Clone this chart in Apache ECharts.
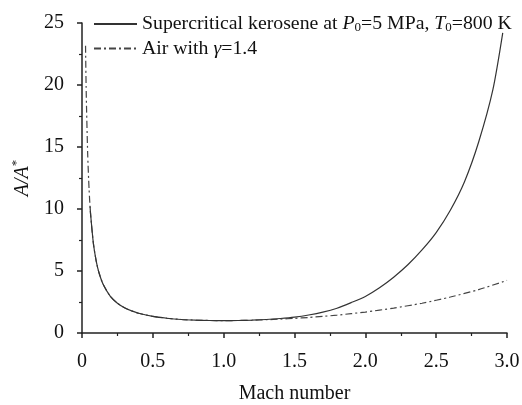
<!DOCTYPE html>
<html>
<head>
<meta charset="utf-8">
<script src="https://cdn.jsdelivr.net/npm/echarts@6/dist/echarts.min.js"></script>
<style>html,body{margin:0;padding:0;background:#fff}#c{width:522px;height:405px}</style>
</head>
<body>
<div id="c"></div>
<script>
var machAir = [0.025,0.03,0.04,0.05,0.06,0.08,0.1,0.12,0.15,0.2,0.25,0.3,0.35,0.4,0.5,0.6,0.7,0.8,0.9,1.0,1.1,1.2,1.3,1.4,1.5,1.6,1.7,1.8,1.9,2.0,2.2,2.4,2.6,2.8,3.0];
var areaAir = [23.16,19.30,14.48,11.59,9.67,7.26,5.82,4.86,3.91,2.96,2.40,2.04,1.78,1.59,1.34,1.19,1.09,1.04,1.01,1.00,1.01,1.03,1.07,1.12,1.18,1.25,1.34,1.44,1.56,1.69,2.01,2.40,2.90,3.50,4.24];
var machKero = [0.057,0.06,0.08,0.1,0.12,0.15,0.2,0.25,0.3,0.35,0.4,0.5,0.6,0.7,0.8,0.9,1.0,1.1,1.2,1.3,1.4,1.5,1.6,1.7,1.8,1.9,2.0,2.1,2.2,2.3,2.4,2.5,2.6,2.7,2.8,2.9,2.97];
var areaKero = [10.2,9.67,7.26,5.82,4.86,3.91,2.96,2.40,2.04,1.78,1.59,1.34,1.19,1.09,1.04,1.01,1.00,1.01,1.04,1.09,1.17,1.28,1.45,1.68,2.0,2.45,2.95,3.65,4.5,5.5,6.7,8.1,9.9,12.2,15.4,19.6,24.2];
var xTicks = ['0','0.5','1.0','1.5','2.0','2.5','3.0'];
var seriesNames = ['Supercritical kerosene', 'Air'];

function zip(a,b){var r=[];for(var i=0;i<a.length;i++)r.push([a[i],b[i]]);return r;}
var F = 'Liberation Serif';
var chart = echarts.init(document.getElementById('c'));
chart.setOption({
  animation:false,
  backgroundColor:'#fff',
  grid:{left:82,right:15,top:23,bottom:72,containLabel:false,outerBoundsMode:'none'},
  legend:{
    orient:'vertical', left:93, top:14, padding:0, itemWidth:43, itemHeight:10, itemGap:4,
    data:seriesNames,
    itemStyle:{opacity:0},
    formatter:function(n){
      if(n===seriesNames[0]) return '{n|Supercritical kerosene at }{i|P}{s|0}{n|=5 MPa, }{i|T}{s|0}{n|=800 K}';
      return '{n|Air with }{i|γ}{n|=1.4}';
    },
    textStyle:{
      color:'#111', fontFamily:F, fontSize:19.8,
      rich:{
        n:{fontFamily:F,fontSize:19.8,color:'#111'},
        i:{fontFamily:F,fontSize:19.8,fontStyle:'italic',color:'#111'},
        s:{fontFamily:F,fontSize:13,color:'#111',padding:[8,0,0,0]}
      }
    }
  },
  xAxis:{
    type:'value', min:0, max:3, interval:0.5,
    name:'Mach number', nameLocation:'middle', nameGap:51,
    nameTextStyle:{fontFamily:F,fontSize:20,color:'#111'},
    axisLine:{lineStyle:{color:'#222',width:1.5}},
    axisTick:{show:true,length:5,inside:false,lineStyle:{color:'#222',width:1.5}},
    minorTick:{show:true,splitNumber:2,length:3,lineStyle:{color:'#222',width:1.2}},
    splitLine:{show:false},
    axisLabel:{fontFamily:F,fontSize:20,color:'#111',margin:19,
      formatter:function(v){return xTicks[Math.round(v/0.5)];}}
  },
  yAxis:{
    type:'value', min:0, max:25, interval:5,
    name:'{i|A}{n|/}{i|A}{sup|*}', nameLocation:'middle', nameGap:47, nameRotate:90,
    nameMoveOverlap:false,
    nameTextStyle:{fontFamily:F,fontSize:20,color:'#111',
      rich:{i:{fontFamily:F,fontSize:20,fontStyle:'italic',color:'#111'},
            n:{fontFamily:F,fontSize:20,fontStyle:'italic',color:'#111'},
            sup:{fontFamily:F,fontSize:13,color:'#111',padding:[0,0,12,0]}}},
    axisLine:{show:true,lineStyle:{color:'#222',width:1.5}},
    axisTick:{show:true,length:5,inside:false,lineStyle:{color:'#222',width:1.5}},
    minorTick:{show:true,splitNumber:2,length:3,lineStyle:{color:'#222',width:1.2}},
    splitLine:{show:false},
    axisLabel:{fontFamily:F,fontSize:20,color:'#111',margin:18}
  },
  series:[
    {name:seriesNames[0], type:'line', data:zip(machKero,areaKero), showSymbol:false, symbol:'none',
     smooth:0.25, itemStyle:{color:'#333'}, lineStyle:{color:'#333',width:1.2,type:'solid'}, z:3},
    {name:seriesNames[1], type:'line', data:zip(machAir,areaAir), showSymbol:false, symbol:'none',
     smooth:0.25, itemStyle:{color:'#444'}, lineStyle:{color:'#444',width:1.2,type:[7,3,2,3]}, z:2}
  ]
});
</script>
</body>
</html>
